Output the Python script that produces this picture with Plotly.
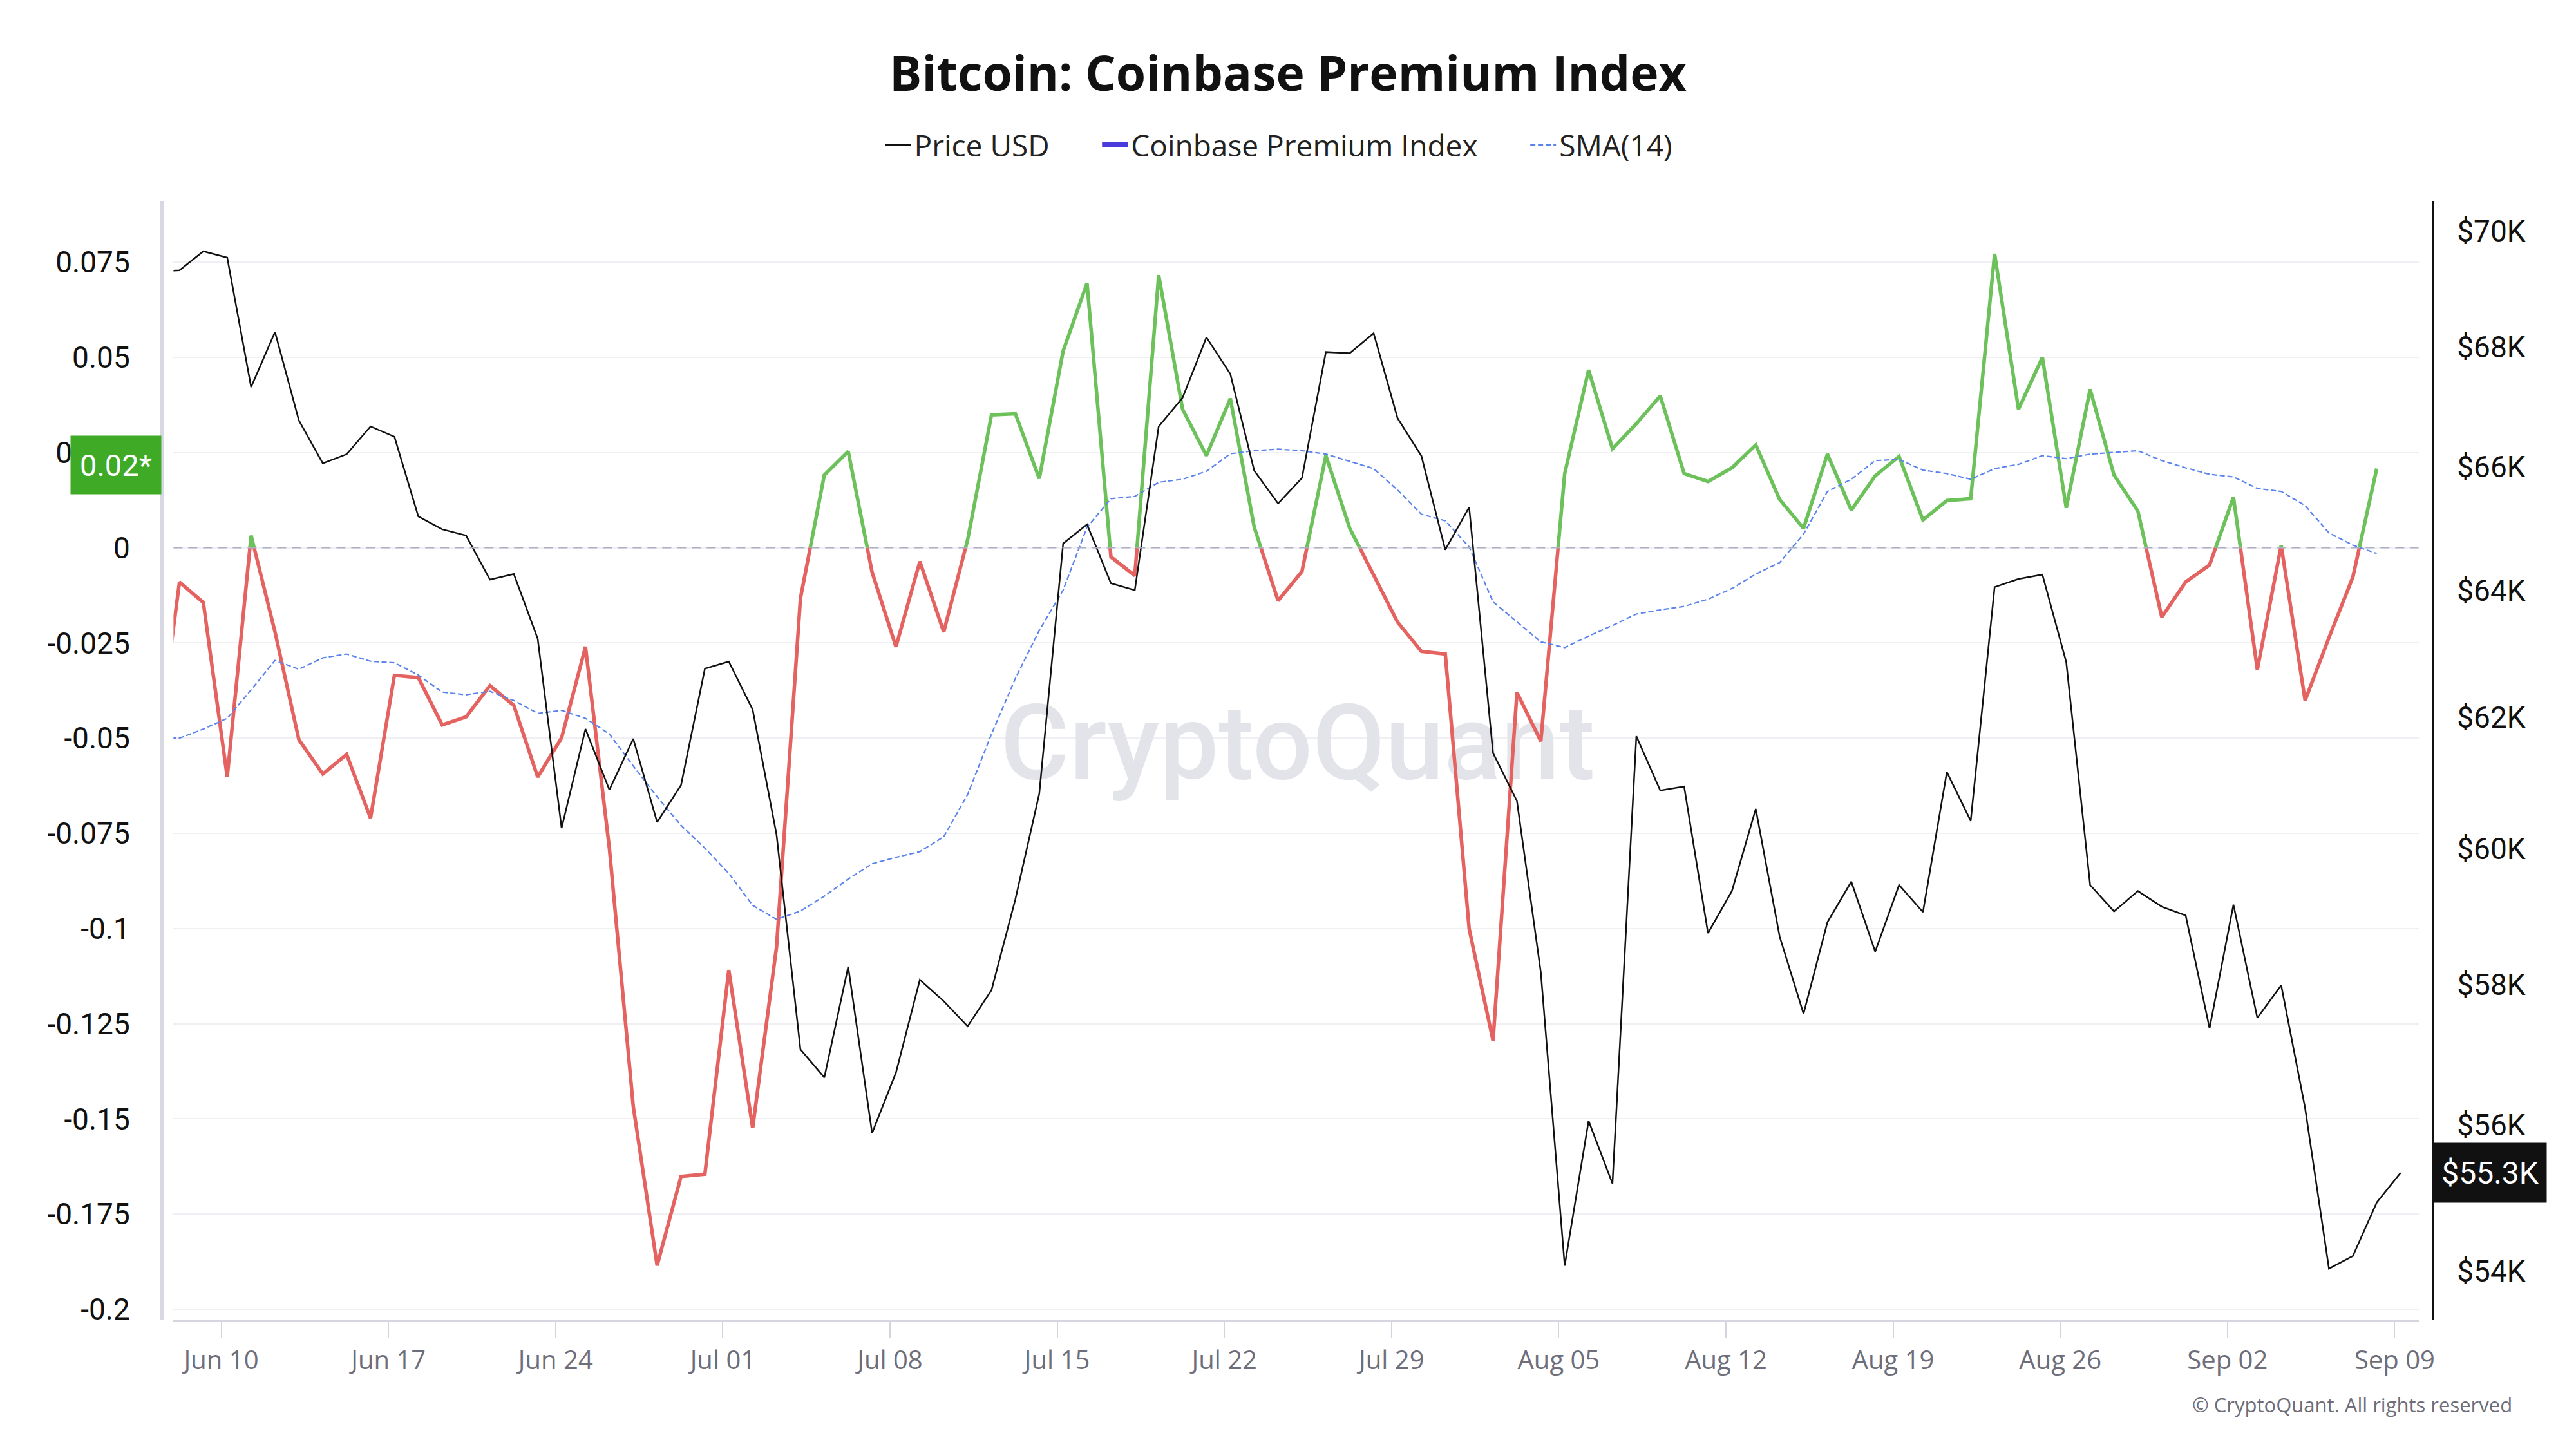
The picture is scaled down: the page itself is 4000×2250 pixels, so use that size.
import numpy as np
import pandas as pd
import plotly.graph_objects as go

# ---------------- data (daily) ----------------
START = "2024-06-07"

price_usd = [
    69300, 69320, 69650, 69540, 67330, 68260, 66770, 66060, 66210, 66670,
    66500, 65190, 64980, 64880, 64170, 64260, 63230, 60310, 61820, 60890,
    61670, 60400, 60960, 62760, 62870, 62120, 60210, 57070, 56670, 58260,
    55890, 56740, 58070, 57760, 57400, 57920, 59250, 60830, 64750, 65060,
    64110, 64000, 66670, 67150, 68170, 67550, 65940, 65400, 65820, 67920,
    67900, 68240, 66810, 66180, 64650, 65340, 61450, 60720, 58180, 54070,
    56060, 55190, 61710, 60880, 60940, 58750, 59370, 60600, 58700, 57580,
    58910, 59510, 58480, 59460, 59060, 61160, 60420, 64050, 64180, 64250,
    62860, 59460, 59070, 59370, 59140, 59010, 57370, 59170, 57520, 57990,
    56240, 54030, 54200, 54930, 55340,
]

premium_index = [
    -0.0570, -0.0090, -0.0144, -0.0602, 0.0032, -0.0221, -0.0504, -0.0594, -0.0543, -0.0710,
    -0.0335, -0.0341, -0.0465, -0.0444, -0.0362, -0.0414, -0.0602, -0.0499, -0.0260, -0.0789,
    -0.1467, -0.1885, -0.1651, -0.1645, -0.1109, -0.1524, -0.1048, -0.0133, 0.0191, 0.0253,
    -0.0064, -0.0260, -0.0036, -0.0221, 0.0021, 0.0349, 0.0352, 0.0182, 0.0517, 0.0695,
    -0.0024, -0.0073, 0.0716, 0.0364, 0.0242, 0.0392, 0.0054, -0.0139, -0.0062, 0.0242,
    0.0051, -0.0071, -0.0195, -0.0272, -0.0279, -0.1001, -0.1295, -0.0380, -0.0508, 0.0195,
    0.0467, 0.0260, 0.0326, 0.0399, 0.0195, 0.0174, 0.0210, 0.0270, 0.0127, 0.0051,
    0.0246, 0.0099, 0.0189, 0.0240, 0.0073, 0.0124, 0.0129, 0.0772, 0.0364, 0.0500,
    0.0105, 0.0416, 0.0191, 0.0096, -0.0182, -0.0090, -0.0045, 0.0133, -0.0320, 0.0006,
    -0.0401, -0.0236, -0.0077, 0.0208,
]

sma14 = [
    -0.0499, -0.0500, -0.0476, -0.0448, -0.0373, -0.0296, -0.0319, -0.0289, -0.0279, -0.0298,
    -0.0302, -0.0334, -0.0379, -0.0386, -0.0377, -0.0401, -0.0435, -0.0427, -0.0448, -0.0489,
    -0.0573, -0.0654, -0.0729, -0.0789, -0.0855, -0.0939, -0.0976, -0.0954, -0.0915, -0.0870,
    -0.0830, -0.0813, -0.0798, -0.0759, -0.0648, -0.0489, -0.0343, -0.0217, -0.0111, 0.0054,
    0.0129, 0.0135, 0.0172, 0.0180, 0.0201, 0.0247, 0.0255, 0.0259, 0.0255, 0.0246,
    0.0227, 0.0208, 0.0152, 0.0088, 0.0071, 0.0002, -0.0142, -0.0195, -0.0247, -0.0262,
    -0.0232, -0.0204, -0.0174, -0.0163, -0.0154, -0.0135, -0.0107, -0.0069, -0.0039, 0.0036,
    0.0148, 0.0180, 0.0229, 0.0232, 0.0204, 0.0195, 0.0180, 0.0208, 0.0219, 0.0242,
    0.0234, 0.0246, 0.0251, 0.0255, 0.0229, 0.0210, 0.0193, 0.0186, 0.0156, 0.0148,
    0.0111, 0.0039, 0.0007, -0.0015,
]

x_tick_dates = ["2024-06-10", "2024-06-17", "2024-06-24", "2024-07-01", "2024-07-08",
                "2024-07-15", "2024-07-22", "2024-07-29", "2024-08-05", "2024-08-12",
                "2024-08-19", "2024-08-26", "2024-09-02", "2024-09-09"]
left_ticks = [-0.2, -0.175, -0.15, -0.125, -0.1, -0.075, -0.05, -0.025, 0, 0.025, 0.05, 0.075]
left_tick_text = ["-0.2", "-0.175", "-0.15", "-0.125", "-0.1", "-0.075", "-0.05", "-0.025",
                  "0", "0.025", "0.05", "0.075"]
right_ticks = [54000, 56000, 58000, 60000, 62000, 64000, 66000, 68000, 70000]
right_tick_text = ["$54K", "$56K", "$58K", "$60K", "$62K", "$64K", "$66K", "$68K", "$70K"]

# ---------------- style / layout constants ----------------
W, H = 4000, 2250
SHIFT = pd.Timedelta(hours=6)          # data points sit 6h after local midnight
X_RANGE = [pd.Timestamp("2024-06-08"), pd.Timestamp("2024-09-10")]
Y_RANGE = [-0.2027, 0.0911]
Y2_RANGE = [np.log10(53348), np.log10(70531)]

PX_L, PX_R = 269.4, 3755.5             # plot area in pixels
PY_T, PY_B = 312, 2049
GREEN, RED = "#6cc15b", "#e4625f"
GAP = "\u00a0" * 6                     # spacing between legend entries

t_price = pd.date_range(START, periods=len(price_usd), freq="D") + SHIFT
t_prem = pd.date_range(START, periods=len(premium_index), freq="D") + SHIFT

# split the premium line into positive (green) and negative (red) parts
xs_pos, ys_pos, xs_neg, ys_neg = [], [], [], []


def _add(x, y):
    xs_pos.append(x)
    ys_pos.append(y if y >= 0 else None)
    xs_neg.append(x)
    ys_neg.append(y if y <= 0 else None)


for i, v in enumerate(premium_index):
    if i > 0:
        a = premium_index[i - 1]
        if a * v < 0:
            f = a / (a - v)
            _add(t_prem[i - 1] + (t_prem[i] - t_prem[i - 1]) * f, 0.0)
    _add(t_prem[i], v)

fig = go.Figure()

# watermark (drawn first so lines pass over it)
wm_x = X_RANGE[0] + (X_RANGE[1] - X_RANGE[0]) * ((2015 - PX_L) / (PX_R - PX_L))
wm_y = Y_RANGE[1] - (Y_RANGE[1] - Y_RANGE[0]) * ((1168 - PY_T) / (PY_B - PY_T))
fig.add_trace(go.Scatter(
    x=[wm_x], y=[wm_y], mode="text", text=["CryptoQuant"],
    textfont=dict(family="Roboto", size=164, color="#e3e3ea", weight=500),
    hoverinfo="skip", showlegend=False, yaxis="y"))

fig.add_trace(go.Scatter(
    x=xs_neg, y=ys_neg, mode="lines", line=dict(color=RED, width=5.5),
    showlegend=False, connectgaps=False, yaxis="y"))
fig.add_trace(go.Scatter(
    x=xs_pos, y=ys_pos, mode="lines", line=dict(color=GREEN, width=5.5),
    showlegend=False, connectgaps=False, yaxis="y"))

fig.add_trace(go.Scatter(
    x=t_prem, y=sma14, mode="lines", name="SMA(14)", legendrank=3,
    line=dict(color="#5b83ee", width=2.2, dash="8px,4px"), yaxis="y"))

# legend entry for the index
fig.add_trace(go.Scatter(
    x=[None], y=[None], mode="lines", name="Coinbase Premium Index" + GAP, legendrank=2,
    line=dict(color="#4b3bdc", width=8), yaxis="y"))

fig.add_trace(go.Scatter(
    x=t_price, y=price_usd, mode="lines", name="Price USD" + GAP, legendrank=1,
    line=dict(color="#111111", width=2.5), yaxis="y2"))

# dashed zero line
fig.add_shape(type="line", xref="x domain", x0=0, x1=1, yref="y", y0=0, y1=0,
              line=dict(color="#adafc2", width=2, dash="14px,9px"))

last_prem = premium_index[-1]
last_price = price_usd[-1]

annotations = [
    dict(text=f"{last_prem:.2f}*", xref="paper", x=251 / W, xanchor="right",
         yref="y", y=last_prem, yanchor="middle", yshift=6, showarrow=False,
         font=dict(family="Roboto", size=47, color="white"),
         bgcolor="#3faa25", width=130, height=80, borderpad=5, align="center"),
    dict(text=f"${last_price / 1000:.1f}K", xref="paper", x=3779 / W, xanchor="left",
         yref="y2", y=np.log10(last_price), yanchor="middle", showarrow=False,
         font=dict(family="Roboto", size=48, color="white"),
         bgcolor="#111111", width=164, height=82, borderpad=5, align="center"),
    dict(text="© CryptoQuant. All rights reserved", xref="paper", x=3903 / W,
         xanchor="right", yref="paper", y=1 - 2181 / H, yanchor="middle",
         showarrow=False, font=dict(family="Open Sans", size=31, color="#6e6e7a")),
]

fig.update_layout(
    width=W, height=H, autosize=False,
    margin=dict(l=0, r=0, t=0, b=0),
    paper_bgcolor="white", plot_bgcolor="white",
    font=dict(family="Open Sans", color="#222222"),
    title=dict(text="<b>Bitcoin: Coinbase Premium Index</b>", x=0.5, xanchor="center",
               y=1 - 115 / H, yanchor="middle", yref="container",
               font=dict(family="Open Sans", size=75, color="#111111")),
    legend=dict(orientation="h", x=0.4965, xanchor="center", y=1 - 225 / H,
                yanchor="middle", font=dict(family="Open Sans", size=46, color="#222222"),
                bgcolor="rgba(0,0,0,0)", itemwidth=40, traceorder="normal"),
    showlegend=True,
    annotations=annotations,
    xaxis=dict(
        type="date", domain=[PX_L / W, PX_R / W], range=X_RANGE, anchor="y",
        tickvals=x_tick_dates, tickformat="%b %d",
        ticks="outside", ticklen=24, tickwidth=2, tickcolor="#d4d4de",
        showline=True, linecolor="#d6d6e0", linewidth=4,
        showgrid=False, zeroline=False,
        tickfont=dict(family="Open Sans", size=40, color="#6e6e7a"),
        ticklabelstandoff=1, automargin=False),
    yaxis=dict(
        domain=[1 - PY_B / H, 1 - PY_T / H], range=Y_RANGE,
        anchor="free", position=251 / W, side="left",
        tickvals=left_ticks, ticktext=left_tick_text, ticks="",
        ticklabelstandoff=38,
        showline=True, linecolor="#d8d8e3", linewidth=5,
        showgrid=True, gridcolor="#f0f0f4", gridwidth=2, zeroline=False,
        tickfont=dict(family="Roboto", size=46, color="#111111"), automargin=False),
    yaxis2=dict(
        type="log", range=Y2_RANGE, overlaying="y", side="right",
        anchor="free", position=3778 / W,
        tickvals=right_ticks, ticktext=right_tick_text, ticks="",
        ticklabelstandoff=26,
        showline=True, linecolor="#111111", linewidth=4,
        showgrid=False, zeroline=False,
        tickfont=dict(family="Roboto", size=46, color="#111111"), automargin=False),
)

fig.write_html(
    "out.html",
    config={"displayModeBar": False},
    post_script="document.body.style.margin='0px';document.body.style.overflow='hidden';",
)
